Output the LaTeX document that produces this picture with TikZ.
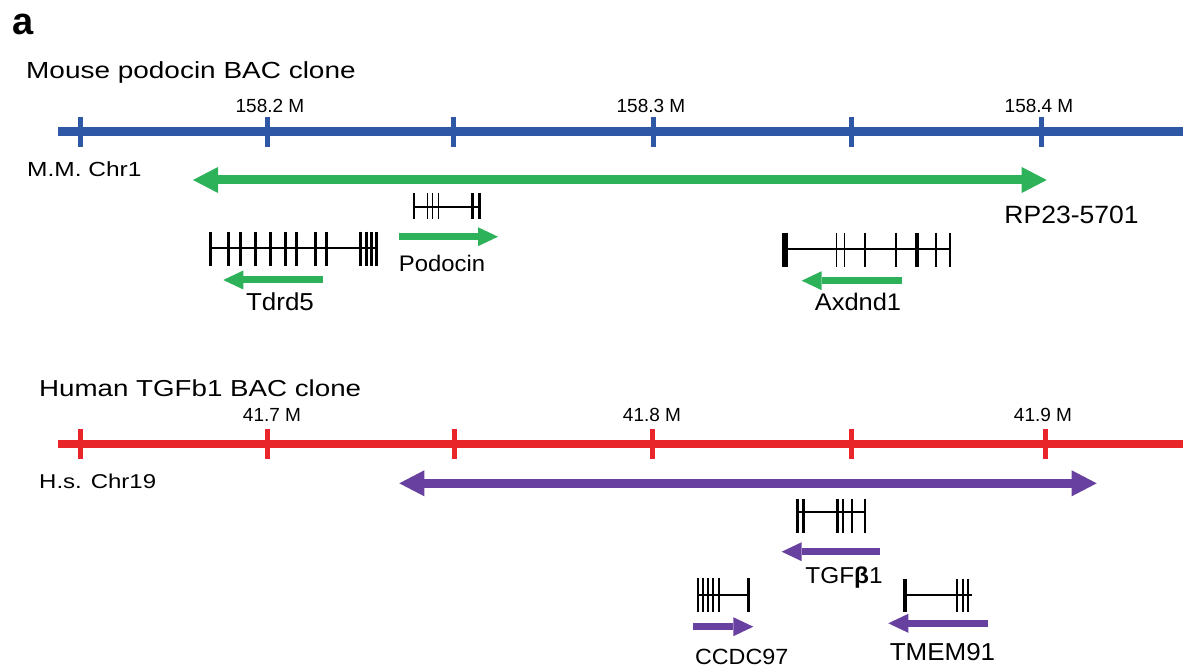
\documentclass[tikz,border=0pt]{standalone}
\usepackage{fontspec}
\setmainfont{Liberation Sans}[FakeStretch=1.2]
\newfontfamily\tickfont{Liberation Sans}
\newfontfamily\genefont{Liberation Sans}[FakeStretch=1.06]
\usetikzlibrary{arrows.meta}
\definecolor{chrblue}{RGB}{46,88,166}
\definecolor{chrred}{RGB}{232,38,42}
\definecolor{clgreen}{RGB}{45,178,90}
\definecolor{clpurple}{RGB}{104,64,160}
\tikzset{
  lbl/.style={inner sep=0,anchor=base},
  lblw/.style={inner sep=0,anchor=base west},
  chrline/.style={line width=8.5pt},
  chrtick/.style={line width=5pt},
  bigtip/.tip={Triangle[length=25pt,width=26pt,line width=0pt]},
  smalltip/.tip={Triangle[length=20pt,width=19pt,line width=0pt]},
  clone/.style={line width=9pt,bigtip-bigtip},
  strand/.style={line width=7pt,-smalltip},
  intron/.style={line width=1.7pt}
}
\begin{document}
\begin{tikzpicture}[x=1pt,y=-1pt]
    \useasboundingbox (0,0) rectangle (1183,668);
    \node[lblw,font=\tickfont\bfseries\fontsize{38}{38}\selectfont] (panel) at (12,35) {a};

    % mouse chromosome
    \node[lblw,font=\fontsize{23.3}{24}\selectfont] (mmtitle) at (26,78.3) {Mouse podocin BAC clone};
    \coordinate (mmL) at (58,131.5);
    \coordinate (mmR) at (1183,131.5);
    \draw[chrline,chrblue] (mmL) -- (mmR);
    \foreach \x in {80,267,453,653,851,1041}
        \draw[chrtick,chrblue] (\x,116.7) -- (\x,146.7);
    \foreach \x/\t in {270/158.2,651/158.3,1039/158.4}
        \node[lbl,font=\tickfont\fontsize{19}{19}\selectfont] (mm\t) at (\x,113) {\t~M};
    \node[lblw,font=\fontsize{20.4}{21}\selectfont] (mmchr) at (27,176.7) {M.M. Chr1};

    \coordinate (rpL) at (193,180);
    \coordinate (rpR) at (1046.7,180);
    \draw[clone,clgreen] (rpL) -- (rpR);
    \node[lbl,font=\genefont\fontsize{25}{25}\selectfont] (rp) at (1071.5,224) {RP23-5701};

    % Tdrd5
    \draw[intron] (210,248.3) -- (375,248.3);
    \foreach \x in {210,228.3,240,255,270,285,296.7,315,326.7,360,366.7,371.7,376}
        \draw[line width=3pt] (\x,231.7) -- (\x,266);
    \coordinate (tdS) at (323.3,280);
    \coordinate (tdE) at (223.3,280);
    \draw[strand,clgreen] (tdS) -- (tdE);
    \node[lbl,font=\genefont\fontsize{24.5}{25}\selectfont] (tdrd) at (280,310) {Tdrd5};

    % Podocin
    \draw[intron] (414,206.7) -- (480,206.7);
    \foreach \x in {414,427.3,432.7,438.3}
        \draw[line width=1.5pt] (\x,193) -- (\x,219);
    \foreach \x in {472.7,479.3}
        \draw[line width=3.5pt] (\x,193) -- (\x,219);
    \coordinate (pdS) at (399,236.7);
    \coordinate (pdE) at (498,236.7);
    \draw[strand,clgreen] (pdS) -- (pdE);
    \node[lbl,font=\genefont\fontsize{22.5}{23}\selectfont] (podo) at (442,271.7) {Podocin};

    % Axdnd1
    \draw[intron] (785,249.3) -- (950,249.3);
    \draw[line width=6pt] (785,232.7) -- (785,266.7);
    \draw[line width=4pt] (916.7,232.7) -- (916.7,266.7);
    \foreach \x in {836.7,844.3,865,896,936,950}
        \draw[line width=1.3pt] (\x,232.7) -- (\x,266.7);
    \coordinate (axS) at (901.7,280.7);
    \coordinate (axE) at (801.7,280.7);
    \draw[strand,clgreen] (axS) -- (axE);
    \node[lbl,font=\genefont\fontsize{24}{24}\selectfont] (axd) at (858,310) {Axdnd1};

    % human chromosome
    \node[lblw,font=\fontsize{23.1}{24}\selectfont] (hstitle) at (39,396.7) {Human TGFb1 BAC clone};
    \coordinate (hsL) at (58,444);
    \coordinate (hsR) at (1183,444);
    \draw[chrline,chrred] (hsL) -- (hsR);
    \foreach \x in {80,267,454,652,851,1045}
        \draw[chrtick,chrred] (\x,429.3) -- (\x,459.3);
    \foreach \x/\t in {272/41.7,652/41.8,1043/41.9}
        \node[lbl,font=\tickfont\fontsize{19}{19}\selectfont] (hs\t) at (\x,421) {\t~M};
    \node[lblw,font=\fontsize{20}{21}\selectfont] (hschr) at (39,488) {H.s. Chr19};

    \coordinate (bacL) at (399.3,483.3);
    \coordinate (bacR) at (1096.7,483.3);
    \draw[clone,clpurple] (bacL) -- (bacR);

    % TGFb1
    \draw[intron] (797,511.7) -- (866,511.7);
    \foreach \x in {797,803.3}
        \draw[line width=3pt] (\x,499.3) -- (\x,533.3);
    \draw[line width=3.5pt] (837.3,499.3) -- (837.3,533.3);
    \foreach \x in {843.3,851.7,865}
        \draw[line width=2pt] (\x,499.3) -- (\x,533.3);
    \coordinate (tgS) at (880,551.7);
    \coordinate (tgE) at (781.7,551.7);
    \draw[strand,clpurple] (tgS) -- (tgE);
    \node[lbl,font=\genefont\fontsize{23}{23}\selectfont] (tgf) at (844,583) {TGF\textbf{β}1};

    % CCDC97
    \draw[intron] (698.3,595) -- (748.3,595);
    \foreach \x in {698.3,703.3,708.3,713.3,719}
        \draw[line width=2pt] (\x,578.3) -- (\x,611.7);
    \draw[line width=3pt] (748.3,578.3) -- (748.3,611.7);
    \coordinate (ccS) at (693.3,626.7);
    \coordinate (ccE) at (753.3,626.7);
    \draw[strand,clpurple] (ccS) -- (ccE);
    \node[lbl,font=\genefont\fontsize{22}{22}\selectfont] (ccdc) at (741.7,664) {CCDC97};

    % TMEM91
    \draw[intron] (905,595) -- (971.7,595);
    \draw[line width=3.5pt] (905,579) -- (905,612);
    \foreach \x in {957.3,962.7,968.3}
        \draw[line width=2pt] (\x,579) -- (\x,612);
    \coordinate (tmS) at (988.3,623.3);
    \coordinate (tmE) at (888.3,623.3);
    \draw[strand,clpurple] (tmS) -- (tmE);
    \node[lbl,font=\genefont\fontsize{24.5}{25}\selectfont] (tmem) at (942.5,660) {TMEM91};
\end{tikzpicture}
\end{document}
